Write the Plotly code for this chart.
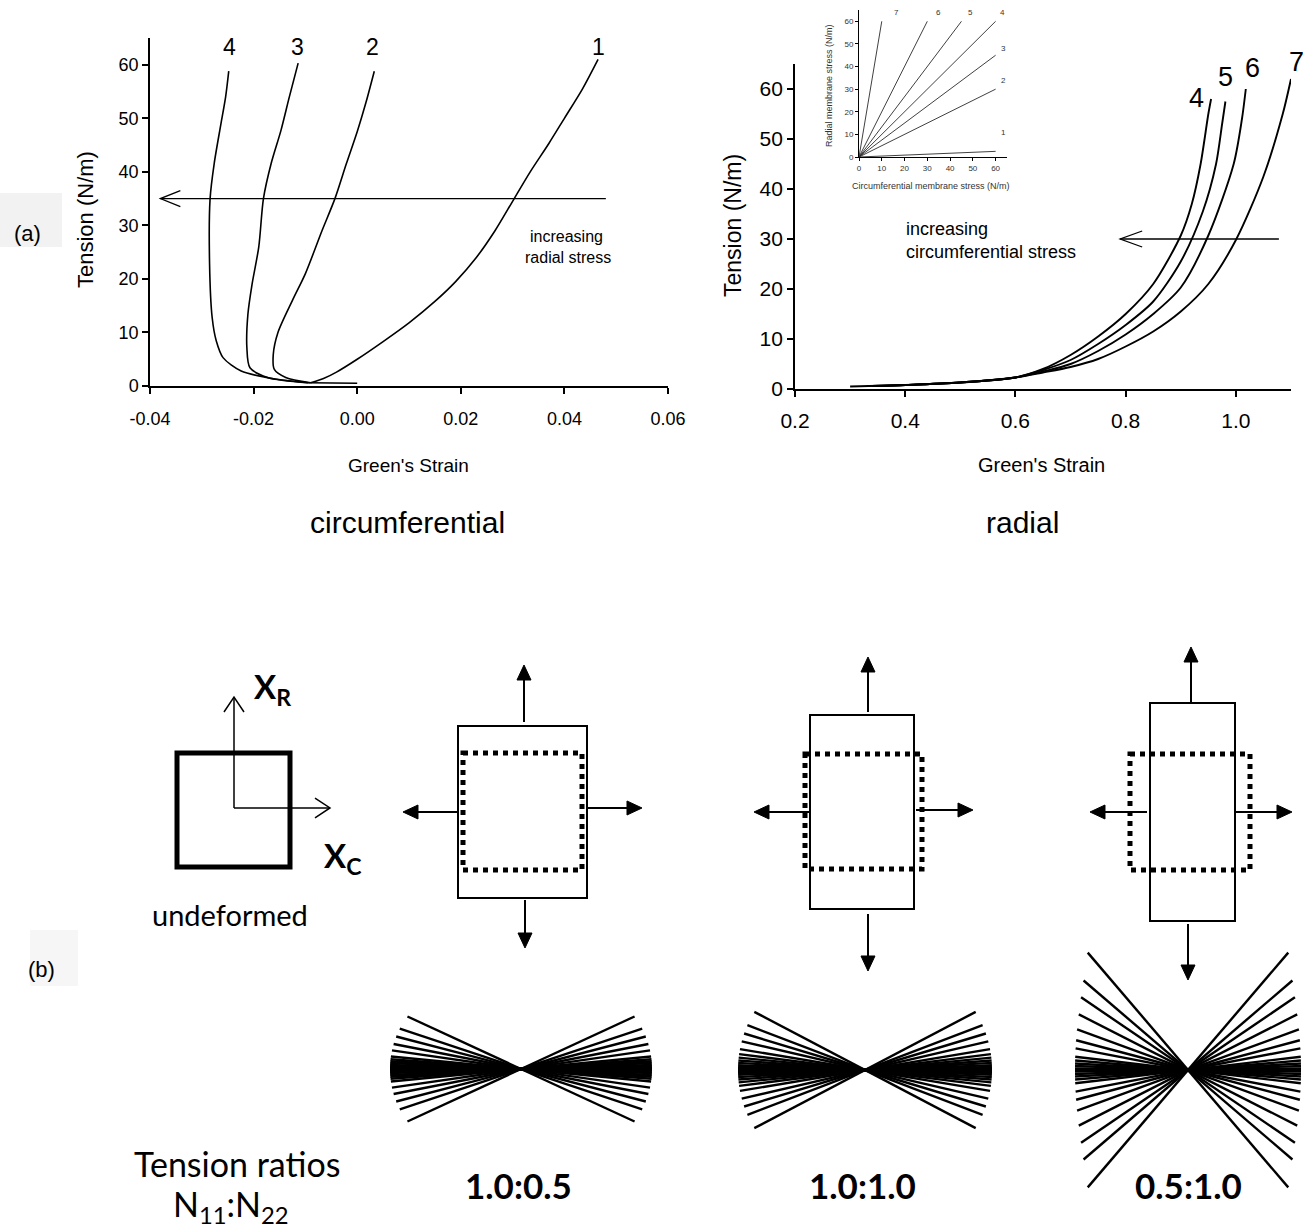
import math
import plotly.graph_objects as go

W, H = 1313, 1232

# ---------------- panel (a), left: circumferential ----------------
circ_base_strain = [-0.0095, 0.0]
circ_base_tension = [0.6, 0.5]

circ1_strain = [-0.0090, -0.0065, -0.0040, 0.0000, 0.0050, 0.0100, 0.0150, 0.0190, 0.0230, 0.0266, 0.0300, 0.0334, 0.0370, 0.0400, 0.0435, 0.0465]
circ1_tension = [0.6, 1.4, 2.6, 5.0, 8.3, 11.8, 15.8, 19.5, 24.0, 29.0, 34.5, 40.0, 45.3, 50.0, 55.5, 61.0]
circ2_strain = [-0.0090, -0.0138, -0.0160, -0.0162, -0.0153, -0.0125, -0.0100, -0.0068, -0.0043, -0.0021, 0.0000, 0.0017, 0.0033]
circ2_tension = [0.6, 1.6, 3.1, 5.9, 10.0, 16.0, 21.0, 29.0, 35.0, 41.5, 47.5, 53.0, 58.8]
circ3_strain = [-0.0095, -0.0173, -0.0207, -0.0213, -0.0211, -0.0203, -0.0190, -0.0181, -0.0166, -0.0147, -0.0131, -0.0114]
circ3_tension = [0.6, 1.6, 3.4, 7.2, 13.4, 19.0, 26.0, 35.0, 41.6, 47.8, 54.0, 60.3]
circ4_strain = [-0.0095, -0.0155, -0.0224, -0.0259, -0.0272, -0.0280, -0.0285, -0.0284, -0.0276, -0.0263, -0.0254, -0.0248]
circ4_tension = [0.6, 1.25, 2.8, 5.3, 8.4, 12.8, 22.8, 35.0, 41.6, 49.0, 54.0, 58.8]
circ_curve_labels = ["1", "2", "3", "4"]
circ_label_strain = [0.0465, 0.0030, -0.0116, -0.0246]
circ_label_tension = [63.3, 63.3, 63.3, 63.3]
circ_xticks = [-0.04, -0.02, 0.00, 0.02, 0.04, 0.06]
circ_xticktext = ["-0.04", "-0.02", "0.00", "0.02", "0.04", "0.06"]
circ_yticks = [0, 10, 20, 30, 40, 50, 60]

# ---------------- panel (a), right: radial ----------------
rad4_strain = [0.30, 0.40, 0.50, 0.60, 0.65, 0.70, 0.75, 0.80, 0.85, 0.90, 0.92, 0.936, 0.950, 0.955]
rad4_tension = [0.5, 0.8, 1.3, 2.3, 4.0, 6.8, 10.5, 15.0, 21.0, 30.7, 37.0, 45.0, 55.0, 58.0]
rad5_strain = [0.34, 0.40, 0.50, 0.60, 0.65, 0.70, 0.75, 0.80, 0.85, 0.90, 0.94, 0.964, 0.975, 0.981]
rad5_tension = [0.6, 0.8, 1.3, 2.3, 3.8, 5.8, 9.0, 12.8, 17.5, 25.5, 35.5, 45.0, 53.0, 57.5]
rad6_strain = [0.34, 0.40, 0.50, 0.60, 0.65, 0.70, 0.75, 0.80, 0.85, 0.90, 0.95, 0.996, 1.011, 1.018]
rad6_tension = [0.6, 0.8, 1.3, 2.3, 3.5, 5.0, 7.6, 10.9, 15.0, 20.3, 30.7, 45.0, 54.0, 60.0]
rad7_strain = [0.34, 0.40, 0.50, 0.60, 0.65, 0.70, 0.75, 0.80, 0.85, 0.90, 0.95, 1.00, 1.05, 1.085, 1.100]
rad7_tension = [0.6, 0.8, 1.3, 2.3, 3.3, 4.4, 6.0, 8.5, 11.5, 15.5, 21.0, 29.8, 42.5, 55.0, 62.0]
rad_curve_labels = ["4", "5", "6", "7"]
rad_xticks = [0.2, 0.4, 0.6, 0.8, 1.0]
rad_yticks = [0, 10, 20, 30, 40, 50, 60]

# ---------------- inset: loading ratios ----------------
inset_labels = ["1", "2", "3", "4", "5", "6", "7"]
inset_circ_end = [60, 60, 60, 60, 45, 30, 10]
inset_rad_end = [2.5, 30, 45, 60, 60, 60, 60]
inset_label_x = [61.5, 61.5, 61.5, 61.0, 47.0, 33.0, 14.7]
inset_label_y = [11.0, 34.0, 48.0, 64.0, 64.0, 64.0, 64.0]
inset_ticks = [0, 10, 20, 30, 40, 50, 60]

# ---------------- panel (b): fibre orientation fans ----------------
fan1_angles = [0, 0.5, 1.1, 1.8, 2.6, 3.4, 4.3, 5.5, 8.2, 11.1, 14.6, 18.4, 24.8]
fan2_angles = [0, 0.7, 1.4, 2.2, 3.2, 4.3, 5.6, 7.2, 9.5, 13.1, 16.8, 20.9, 27.7]
fan3_angles = [0, 0.8, 2.0, 3.3, 4.8, 6.7, 10.9, 14.9, 20.1, 27.0, 34.2, 40.6, 49.5]
ratio_labels = ["1.0:0.5", "1.0:1.0", "0.5:1.0"]

CHART_FONT = "Liberation Sans Narrow, Liberation Sans, Arial"
ARIAL = "Liberation Sans, Arial"
B_FONT = "Lato, Open Sans, sans-serif"


def X(p):
    return p / W


def Y(p):
    return 1 - p / H


fig = go.Figure()

# left chart
fig.add_trace(go.Scatter(x=circ_base_strain, y=circ_base_tension, mode="lines",
                         line=dict(color="black", width=1.6), xaxis="x", yaxis="y",
                         showlegend=False, hoverinfo="skip"))
for sx, ty in [(circ1_strain, circ1_tension), (circ2_strain, circ2_tension),
               (circ3_strain, circ3_tension), (circ4_strain, circ4_tension)]:
    fig.add_trace(go.Scatter(x=sx, y=ty, mode="lines",
                             line=dict(color="black", width=1.6, shape="spline", smoothing=0.8),
                             xaxis="x", yaxis="y", showlegend=False, hoverinfo="skip"))

# right chart
for sx, ty in [(rad4_strain, rad4_tension), (rad5_strain, rad5_tension),
               (rad6_strain, rad6_tension), (rad7_strain, rad7_tension)]:
    fig.add_trace(go.Scatter(x=sx, y=ty, mode="lines",
                             line=dict(color="black", width=1.9, shape="spline", smoothing=0.8),
                             xaxis="x2", yaxis="y2", showlegend=False, hoverinfo="skip",
                             cliponaxis=False))

# inset
for ce, re_ in zip(inset_circ_end, inset_rad_end):
    fig.add_trace(go.Scatter(x=[0, ce], y=[0, re_], mode="lines",
                             line=dict(color="#2a2a2a", width=0.9),
                             xaxis="x3", yaxis="y3", showlegend=False, hoverinfo="skip"))

# fans on a pixel axis restricted to the bottom strip
FAN_TOP = 930
fan_defs = [
    (fan1_angles, 521, 1069, lambda a: 131 - 6 * (a / 25.0) ** 2),
    (fan2_angles, 865, 1070, lambda a: 127 - 2 * (a / 28.0) ** 2),
    (fan3_angles, 1188, 1070, lambda a: (113 - 13 * (a / 50.0) ** 2) / math.cos(math.radians(a))),
]
for angles, cx, cy, rfun in fan_defs:
    xs, ys = [], []
    full = sorted(set(list(angles) + [-a for a in angles]))
    for a in full:
        r = rfun(abs(a))
        t = math.radians(a)
        xs += [cx - r * math.cos(t), cx + r * math.cos(t), None]
        ys += [cy + r * math.sin(t), cy - r * math.sin(t), None]
    fig.add_trace(go.Scatter(x=xs, y=ys, mode="lines", line=dict(color="black", width=2.4),
                             xaxis="x4", yaxis="y4", showlegend=False, hoverinfo="skip"))

shapes = []
annotations = []


def pline(x0, y0, x1, y1, w=2):
    shapes.append(dict(type="line", xref="paper", yref="paper", x0=X(x0), y0=Y(y0), x1=X(x1), y1=Y(y1),
                       line=dict(color="black", width=w), layer="above"))


def prect(x0, y0, x1, y1, w=2, dash=None, fill=None, layer="above"):
    d = dict(type="rect", xref="paper", yref="paper", x0=X(x0), y0=Y(y0), x1=X(x1), y1=Y(y1),
             line=dict(color="black", width=w), layer=layer)
    if dash:
        d["line"]["dash"] = dash
    if fill:
        d["fillcolor"] = fill
        d["line"] = dict(width=0)
    shapes.append(d)


def ppath(pts, closed=False, w=1.5, fill=None):
    s = "M" + " L".join("{:.5f},{:.5f}".format(X(a), Y(b)) for a, b in pts)
    if closed:
        s += " Z"
    d = dict(type="path", xref="paper", yref="paper", path=s,
             line=dict(color="black", width=w), layer="above")
    if fill:
        d["fillcolor"] = fill
    shapes.append(d)


def filled_arrow(x0, y0, x1, y1, w=2, L=15, hw=7):
    dx, dy = x1 - x0, y1 - y0
    n = math.hypot(dx, dy)
    ux, uy = dx / n, dy / n
    bx, by = x1 - L * ux, y1 - L * uy
    pline(x0, y0, bx + 2 * ux, by + 2 * uy, w)
    nx, ny = -uy, ux
    ppath([(x1, y1), (bx + hw * nx, by + hw * ny), (bx - hw * nx, by - hw * ny)],
          closed=True, w=1, fill="black")


def open_arrow(x0, y0, x1, y1, w=1.5, L=15, hw=10):
    dx, dy = x1 - x0, y1 - y0
    n = math.hypot(dx, dy)
    ux, uy = dx / n, dy / n
    pline(x0, y0, x1, y1, w)
    bx, by = x1 - L * ux, y1 - L * uy
    nx, ny = -uy, ux
    ppath([(bx + hw * nx, by + hw * ny), (x1, y1), (bx - hw * nx, by - hw * ny)], w=w)


def ptext(x, y, text, size, family=CHART_FONT, angle=0, xanchor="center", color="black"):
    annotations.append(dict(x=X(x), y=Y(y), xref="paper", yref="paper", text=text, showarrow=False,
                            font=dict(family=family, size=size, color=color),
                            textangle=angle, xanchor=xanchor, yanchor="middle"))


# "(a)" and "(b)" tag boxes
prect(0, 193, 62, 247, fill="#f2f2f2", layer="below")
prect(30, 930, 78, 986, fill="#f6f6f6", layer="below")
ptext(27, 233, "(a)", 22, ARIAL)
ptext(41, 969, "(b)", 22, ARIAL)

# left chart arrow (data coords)
lx_u = 0.1 / 518.0
ly_u = 65.0 / 348.0
shapes.append(dict(type="line", xref="x", yref="y", x0=0.048, y0=35, x1=-0.038, y1=35,
                   line=dict(color="black", width=1.3)))
shapes.append(dict(type="path", xref="x", yref="y",
                   path="M{:.5f},{:.4f} L{:.5f},{:.4f} L{:.5f},{:.4f}".format(
                       -0.038 + 20 * lx_u, 35 + 8 * ly_u, -0.038, 35, -0.038 + 20 * lx_u, 35 - 8 * ly_u),
                   line=dict(color="black", width=1.3)))
# right chart arrow
rx_u = 0.9 / 496.0
ry_u = 65.0 / 325.0
shapes.append(dict(type="line", xref="x2", yref="y2", x0=1.078, y0=30, x1=0.79, y1=30,
                   line=dict(color="black", width=1.3)))
shapes.append(dict(type="path", xref="x2", yref="y2",
                   path="M{:.5f},{:.4f} L{:.5f},{:.4f} L{:.5f},{:.4f}".format(
                       0.79 + 22 * rx_u, 30 + 8 * ry_u, 0.79, 30, 0.79 + 22 * rx_u, 30 - 8 * ry_u),
                   line=dict(color="black", width=1.3)))

# chart texts
for lab, sx, ty in zip(circ_curve_labels, circ_label_strain, circ_label_tension):
    annotations.append(dict(x=sx, y=ty, xref="x", yref="y", text=lab, showarrow=False,
                            font=dict(family=CHART_FONT, size=23, color="black")))
for lab, (px_, py_) in zip(rad_curve_labels, [(1196, 98), (1225, 77), (1252, 68), (1296, 62)]):
    ptext(px_, py_, lab, 27)
for lab, sx, ty in zip(inset_labels, inset_label_x, inset_label_y):
    annotations.append(dict(x=sx, y=ty, xref="x3", yref="y3", text=lab, showarrow=False,
                            xanchor="left", font=dict(family=CHART_FONT, size=8, color="#333333")))

ptext(566, 236, "increasing", 16)
ptext(568, 258, "radial stress", 16)
ptext(904, 229, "increasing", 18, xanchor="left")
ptext(904, 252, "circumferential stress", 18, xanchor="left")
ptext(85, 220, "Tension (N/m)", 22, angle=-90)
ptext(733, 226, "Tension (N/m)", 23, angle=-90)
ptext(408, 465, "Green's Strain", 19)
ptext(1041, 465, "Green's Strain", 20)
ptext(407, 522, "circumferential", 30, ARIAL)
ptext(1022, 522, "radial", 30, ARIAL)
ptext(829, 86, "Radial membrane stress (N/m)", 9, angle=-90, color="#333333")
ptext(931, 186, "Circumferential membrane stress (N/m)", 9, color="#333333")

# ---------------- panel (b) schematics ----------------
prect(177, 753, 290, 867, w=5)
open_arrow(234, 808, 234, 697, w=1.5, L=15, hw=10)
open_arrow(234, 808, 330, 808, w=1.5, L=15, hw=10)
ptext(272, 688, "<b>X<sub>R</sub></b>", 33, B_FONT)
ptext(342, 857, "<b>X<sub>C</sub></b>", 33, B_FONT)
ptext(230, 914, "undeformed", 29, B_FONT)

diagrams = [
    dict(solid=(458, 726, 587, 898), dotted=(463, 753, 582, 870),
         up=(524, 722, 524, 665), down=(525, 900, 525, 948),
         left=(458, 812, 403, 812), right=(587, 808, 642, 808)),
    dict(solid=(810, 715, 914, 909), dotted=(805, 754, 922, 869),
         up=(868, 712, 868, 657), down=(868, 914, 868, 971),
         left=(809, 812, 754, 812), right=(916, 810, 973, 810)),
    dict(solid=(1150, 703, 1235, 921), dotted=(1130, 754, 1250, 870),
         up=(1191, 702, 1191, 647), down=(1188, 924, 1188, 980),
         left=(1147, 812, 1090, 812), right=(1235, 812, 1292, 812)),
]
for d in diagrams:
    prect(*d["dotted"], w=5, dash="5px,5px")
    prect(*d["solid"], w=2)
    for k in ("up", "down", "left", "right"):
        filled_arrow(*d[k], w=2)

label_x = [518, 862, 1188]
for lx, lab in zip(label_x, ratio_labels):
    ptext(lx, 1185, "<b>" + lab + "</b>", 35, B_FONT)
ptext(237, 1163, "Tension ratios", 34, B_FONT)
ptext(231, 1206, "N<sub>11</sub>:N<sub>22</sub>", 34, B_FONT)

axis_common = dict(showgrid=False, zeroline=False, showline=True, linecolor="black",
                   ticks="outside", tickcolor="black", fixedrange=True)

fig.update_layout(
    width=W, height=H, margin=dict(l=0, r=0, t=0, b=0, autoexpand=False),
    paper_bgcolor="white", plot_bgcolor="rgba(0,0,0,0)", showlegend=False,
    xaxis=dict(domain=[X(150), X(668)], range=[-0.04, 0.06], anchor="y",
               tickvals=circ_xticks, ticktext=circ_xticktext, linewidth=1.5, ticklen=6, tickwidth=1.5,
               ticklabelstandoff=10,
               tickfont=dict(family=CHART_FONT, size=18, color="black"), **axis_common),
    yaxis=dict(domain=[Y(386), Y(38)], range=[0, 65], anchor="x",
               tickvals=circ_yticks, linewidth=1.5, ticklen=6, tickwidth=1.5,
               tickfont=dict(family=CHART_FONT, size=18, color="black"), **axis_common),
    xaxis2=dict(domain=[X(795), X(1291)], range=[0.2, 1.1], anchor="y2",
                tickvals=rad_xticks, tickformat=".1f", linewidth=1.8, ticklen=6, tickwidth=1.8,
                ticklabelstandoff=6,
                tickfont=dict(family=CHART_FONT, size=21, color="black"), **axis_common),
    yaxis2=dict(domain=[Y(389), Y(64)], range=[0, 65], anchor="x2",
                tickvals=rad_yticks, linewidth=1.8, ticklen=6, tickwidth=1.8,
                tickfont=dict(family=CHART_FONT, size=21, color="black"), **axis_common),
    xaxis3=dict(domain=[X(859), X(1007)], range=[0, 65], anchor="y3",
                tickvals=inset_ticks, linewidth=0.9, ticklen=3, tickwidth=0.9,
                tickfont=dict(family=CHART_FONT, size=8, color="#333333"), **axis_common),
    yaxis3=dict(domain=[Y(157), Y(10)], range=[0, 65], anchor="x3",
                tickvals=inset_ticks, linewidth=0.9, ticklen=3, tickwidth=0.9,
                tickfont=dict(family=CHART_FONT, size=8, color="#333333"), **axis_common),
    xaxis4=dict(domain=[0, 1], range=[0, W], anchor="y4", visible=False, fixedrange=True),
    yaxis4=dict(domain=[0, Y(FAN_TOP)], range=[H, FAN_TOP], anchor="x4", visible=False, fixedrange=True),
    shapes=shapes, annotations=annotations,
)

fig.write_html("out.html")
